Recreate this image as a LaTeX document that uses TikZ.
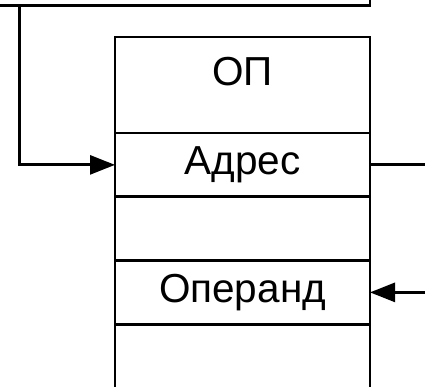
\documentclass[tikz,border=0pt]{standalone}
\usepackage{fontspec}
\setmainfont{Liberation Sans}
\usetikzlibrary{arrows.meta}
\begin{document}
\begin{tikzpicture}[x=1pt,y=-1pt,line width=2.8pt,
  cell/.style={draw,minimum width=255pt,inner sep=0pt,outer sep=0pt,anchor=north west},
  lbl/.style={font=\fontsize{40.5}{48}\selectfont,inner sep=0pt},
  arr/.style={-{Triangle[length=25pt,width=19pt]}}]
\useasboundingbox (0,0) rectangle (425,387);
\node[draw,minimum width=420pt,minimum height=60pt,inner sep=0pt,outer sep=0pt,anchor=south east] (top) at (370,5.5) {};
\node[cell,minimum height=96pt] (op) at (115,37) {};
\node[lbl] (opt) at (242.5,72) {ОП};
\node[cell,minimum height=63.75pt,lbl] (adr) at (op.south west) {Адрес};
\node[cell,minimum height=63.75pt] (e1) at (adr.south west) {};
\node[cell,minimum height=63.75pt,lbl] (opd) at (e1.south west) {Операнд};
\node[cell,minimum height=63.75pt] (e2) at (opd.south west) {};
\coordinate (s) at (19.5,5.5);
\coordinate (rx) at (430,0);
\draw[arr] (s) |- (adr.west);
\draw (adr.east) -- (adr.east -| rx);
\draw[arr] (opd.east -| rx) -- (opd.east);
\end{tikzpicture}
\end{document}
